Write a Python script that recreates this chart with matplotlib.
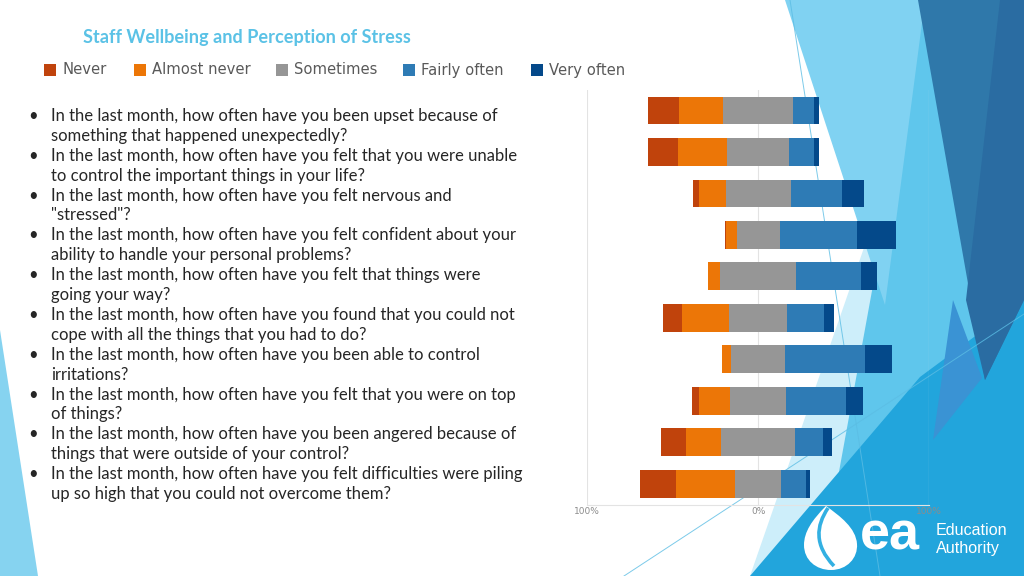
import matplotlib
matplotlib.use("Agg")
import matplotlib.pyplot as plt
import numpy as np
from matplotlib.patches import Polygon, Rectangle, PathPatch
from matplotlib.path import Path

W, H = 1024, 576

# ---------------- data ----------------
questions = [
    ["In the last month, how often have you been upset because of", "something that happened unexpectedly?"],
    ["In the last month, how often have you felt that you were unable", "to control the important things in your life?"],
    ["In the last month, how often have you felt nervous and", "\"stressed\"?"],
    ["In the last month, how often have you felt confident about your", "ability to handle your personal problems?"],
    ["In the last month, how often have you felt that things were", "going your way?"],
    ["In the last month, how often have you found that you could not", "cope with all the things that you had to do?"],
    ["In the last month, how often have you been able to control", "irritations?"],
    ["In the last month, how often have you felt that you were on top", "of things?"],
    ["In the last month, how often have you been angered because of", "things that were outside of your control?"],
    ["In the last month, how often have you felt difficulties were piling", "up so high that you could not overcome them?"],
]
series_names = ["Never", "Almost never", "Sometimes", "Fairly often", "Very often"]
never        = [18.3, 17.7,  3.1,  0.8,  0.0, 11.1,  0.0,  3.7, 14.4, 21.1]
almost_never = [25.5, 28.7, 15.8,  6.2,  7.4, 27.3,  5.1, 18.3, 20.7, 34.5]
sometimes    = [41.3, 36.3, 38.0, 25.1, 44.4, 34.3, 32.0, 32.9, 43.1, 26.9]
fairly_often = [12.1, 14.6, 30.2, 45.4, 37.8, 21.1, 46.6, 34.9, 16.6, 14.4]
very_often   = [ 2.9,  2.9, 12.5, 22.6,  9.7,  6.0, 16.0,  9.9,  5.1,  2.7]
tick_values = [-100, 0, 100]
tick_labels = ["100%", "0%", "100%"]
title_text = "Staff Wellbeing and Perception of Stress"

colors = ["#C0430C", "#EC7607", "#969696", "#2E7BB5", "#04498A"]

# ---------------- figure ----------------
fig = plt.figure(figsize=(W / 100, H / 100), dpi=100)
fig.patch.set_facecolor("white")


def P(x, y):
    return (x / W, 1 - y / H)


def poly(pts, color, z=0, alpha=1.0):
    fig.patches.append(Polygon([P(*p) for p in pts], closed=True, transform=fig.transFigure,
                               facecolor=color, edgecolor="none", zorder=z, alpha=alpha))


# background decoration (slide theme)
poly([(0, 330), (38, 576), (0, 576)], "#86D3F0")
poly([(950, 0), (1024, 0), (1024, 576), (750, 576)], "#CDEEFA")
poly([(925, 0), (1024, 0), (1024, 576), (820, 576)], "#5FC6EC")
poly([(785, 0), (925, 0), (885, 305)], "#80D2F2")
poly([(750, 576), (920, 377), (1024, 300), (1024, 576)], "#22A5DC")
poly([(918, 0), (1024, 0), (1024, 300), (985, 380)], "#2F78AA")
poly([(1000, 0), (1024, 0), (1024, 300), (985, 380), (966, 300)], "#2A6CA2")
poly([(953, 300), (982, 378), (933, 440)], "#3A93D4")
for (x0, y0, x1, y1) in [(790, 0, 880, 576), (624, 576, 1024, 314)]:
    fig.add_artist(plt.Line2D([x0 / W, x1 / W], [1 - y0 / H, 1 - y1 / H], transform=fig.transFigure,
                              color="#5BBDE4", lw=0.7, alpha=0.8, zorder=0.5))

renderer = fig.canvas.get_renderer()


def fit_text(x, y, s, width, size0=12, **kw):
    t = fig.text(x / W, 1 - y / H, s, fontsize=size0, **kw)
    w = t.get_window_extent(renderer).width
    t.set_fontsize(size0 * width / w)
    return t


# title
fit_text(83, 37, title_text, 325, color="#5BC2E6", fontweight="bold",
         family="Lato", va="center", ha="left")

# ---------------- chart ----------------
ax = fig.add_axes([587.3 / W, 1 - 504.5 / H, (929 - 587.3) / W, (504.5 - 89.75) / H])
ax.set_zorder(5)
ax.set_facecolor("none")
data = np.array([never, almost_never, sometimes, fairly_often, very_often])
y = np.arange(len(questions))
left = -(data[0] + data[1] + data[2] / 2)
for i, name in enumerate(series_names):
    ax.barh(y, data[i], left=left, height=0.67, color=colors[i], label=name, zorder=3)
    left = left + data[i]
ax.set_xlim(-100, 100)
ax.set_ylim(len(questions) - 0.5, -0.5)
ax.set_xticks(tick_values)
ax.set_xticklabels(tick_labels, fontsize=6.5, color="#8C8C8C")
ax.tick_params(axis="x", length=0, pad=2)
ax.set_yticks([])
ax.grid(axis="x", color="#E3E3E3", lw=0.8, zorder=0)
for s in ["top", "right", "left"]:
    ax.spines[s].set_visible(False)
ax.spines["bottom"].set_color("#E3E3E3")

# legend (manual, slide style)
leg_sq = [44, 134, 276, 403, 531]
for i, name in enumerate(series_names):
    fig.patches.append(Rectangle(P(leg_sq[i], 76), 12 / W, 12 / H, transform=fig.transFigure,
                                 facecolor=colors[i], edgecolor="none"))
    fig.text((leg_sq[i] + 18) / W, 1 - 70 / H, name, fontsize=10.6, color="#595959",
             family="DejaVu Sans", va="center", ha="left")

# bullet text
probe = fig.text(0, 0, questions[0][0], fontsize=12, family="Lato")
fs = 12 * 446 / probe.get_window_extent(renderer).width
probe.remove()
line = 0
for q in questions:
    for j, s in enumerate(q):
        yb = 121 + line * 19.9
        if j == 0:
            fig.text(28 / W, 1 - yb / H, "\u2022", fontsize=fs, family="Lato", color="#262626",
                     va="baseline", ha="left")
        fig.text(51 / W, 1 - yb / H, s, fontsize=fs, family="Lato", color="#262626",
                 va="baseline", ha="left")
        line += 1

# logo: white teardrop with a curved notch
verts = [P(826, 506), P(812, 520), P(804, 532), P(804, 545),
         P(804, 560), P(816, 570), P(831, 570),
         P(847, 570), P(858, 558), P(857, 544),
         P(856, 528), P(840, 516), P(826, 506)]
codes = [Path.MOVETO] + [Path.CURVE4] * 12
fig.patches.append(PathPatch(Path(verts, codes), transform=fig.transFigure,
                             facecolor="white", edgecolor="none", zorder=6))
curve = Path([P(828, 508), P(816, 526), P(814, 545), P(834, 566)],
             [Path.MOVETO, Path.CURVE4, Path.CURVE4, Path.CURVE4])
fig.patches.append(PathPatch(curve, transform=fig.transFigure, facecolor="none",
                             edgecolor="#33B0E2", lw=2.6, zorder=7))
fit_text(860, 550, "ea", 60, size0=30, color="white", fontweight="bold", family="Liberation Sans",
         va="baseline", ha="left", zorder=6)
fig.text(936 / W, 1 - 535 / H, "Education", fontsize=11.6, color="white", family="Liberation Sans",
         va="baseline", ha="left", zorder=6)
fig.text(936 / W, 1 - 553 / H, "Authority", fontsize=11.6, color="white", family="Liberation Sans",
         va="baseline", ha="left", zorder=6)

fig.savefig("out.png", dpi=100, facecolor="white")
